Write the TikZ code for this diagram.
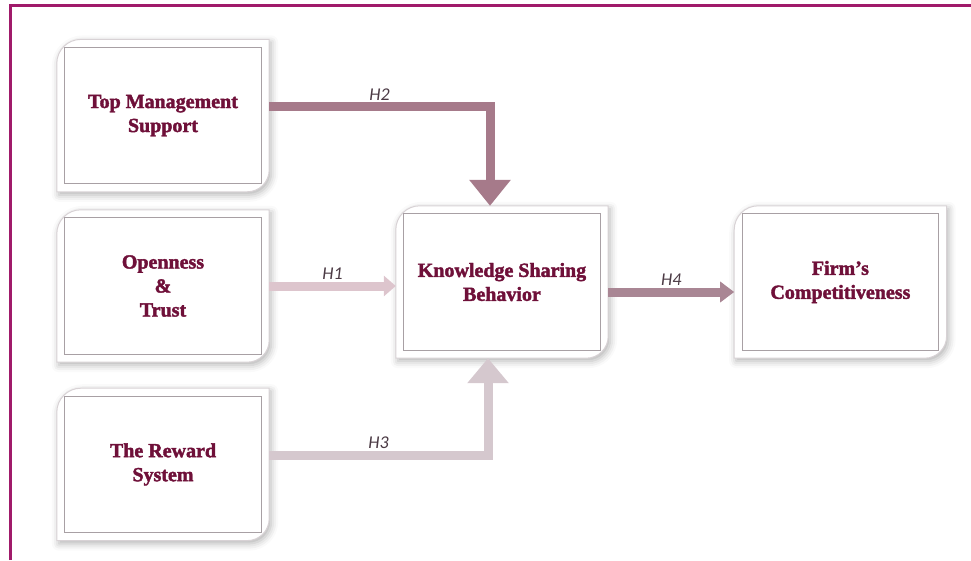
\documentclass[tikz,border=0pt]{standalone}
\usepackage{fontspec}
\setmainfont{Liberation Serif}[BoldFeatures={FakeBold=2}]
\newfontfamily\hypfont{Carlito}
\usepackage{tikz}
\usetikzlibrary{positioning, arrows.meta, backgrounds, shadows.blur}

\definecolor{framepurple}{HTML}{A01A6A}
\definecolor{wine}{HTML}{6F1039}
\definecolor{hyptext}{HTML}{4B3A44}
\definecolor{hypone}{HTML}{DDC5CD}
\definecolor{hyptwo}{HTML}{A67A8A}
\definecolor{hypthree}{HTML}{D5C8CE}
\definecolor{hypfour}{HTML}{A98694}
\definecolor{cardedge}{HTML}{D8D2D5}
\definecolor{cardinner}{HTML}{A8A0A4}

% card with two rounded corners and a thin inner frame
\newcommand{\cardoutline}[1]{%
  \fill[white, draw=cardedge, line width=1pt,
        blur shadow={shadow xshift=2pt, shadow yshift=-3pt, shadow blur radius=7pt, shadow opacity=30}]
    ([yshift=-24pt]#1.north west) arc[start angle=180, end angle=90, radius=24pt]
    -- (#1.north east) -- ([yshift=22pt]#1.south east)
    arc[start angle=0, end angle=-90, radius=22pt] -- (#1.south west) -- cycle;
  \draw[cardinner, line width=0.8pt] ([shift={(8pt,-8pt)}]#1.north west) rectangle ([shift={(-8pt,8pt)}]#1.south east);
}

\begin{document}
\begin{tikzpicture}[x=1pt, y=-1pt,
    card/.style={minimum width=212pt, minimum height=152pt, inner sep=0pt, align=center, text=wine,
                 font=\fontsize{20}{24}\selectfont\bfseries},
    hyp/.style={font=\hypfont\itshape\fontsize{18}{20}\selectfont, text=hyptext, inner sep=2pt},
    link/.style={line width=9pt}
]
    \useasboundingbox (0,0) rectangle (971,560);
    \draw[framepurple, line width=3pt] (10.5,560) -- (10.5,5.5) -- (971,5.5);

    \node[card] (ot) at (163,286) {Openness\\\&\\Trust};
    \node[card, above=18pt of ot] (tms) {Top Management\\Support};
    \node[card, below=26pt of ot] (trs) {The Reward\\System};
    \node[card] (ksb) at (502,282) {Knowledge Sharing\\Behavior};
    \node[card, right=126pt of ksb] (fc) {Firm’s\\Competitiveness};

    \begin{scope}[on background layer]
        \cardoutline{tms}
        \cardoutline{ot}
        \cardoutline{trs}
        \cardoutline{ksb}
        \cardoutline{fc}
    \end{scope}

    \draw[link, draw=hyptwo, -{Triangle[width=40pt, length=26pt]}]
        ([yshift=9pt]tms.east) -| ([xshift=-12pt]ksb.north) node[hyp, pos=0.25, above] (h2) {H2};
    \draw[link, draw=hypone, -{Triangle[width=20pt, length=12pt]}]
        (ot.east) -- (ot.east -| ksb.west) node[hyp, midway, above] (h1) {H1};
    \draw[link, draw=hypthree, -{Triangle[width=40pt, length=25pt]}]
        ([yshift=9pt]trs.east) -| ([xshift=-14pt]ksb.south) node[hyp, pos=0.25, above] (h3) {H3};
    \draw[link, draw=hypfour, -{Triangle[width=20pt, length=14pt]}]
        ([yshift=-10pt]ksb.east) -- ([yshift=-10pt]fc.west) node[hyp, midway, above] (h4) {H4};
\end{tikzpicture}
\end{document}
